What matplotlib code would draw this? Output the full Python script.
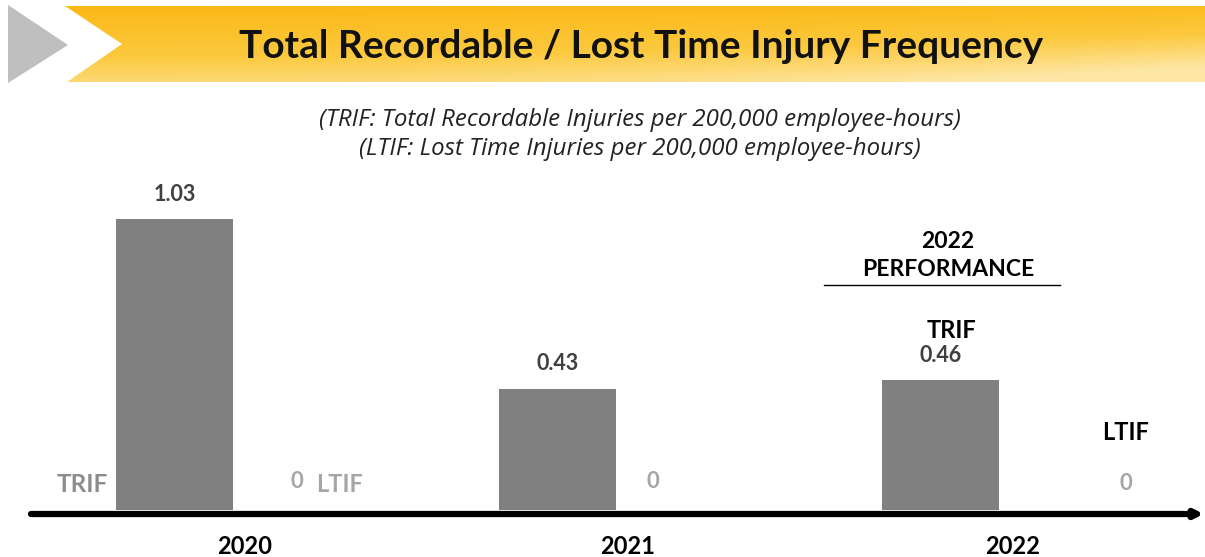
import numpy as np
import matplotlib
matplotlib.use("Agg")
import matplotlib.pyplot as plt
from matplotlib.patches import Polygon
from matplotlib.colors import LinearSegmentedColormap

# ---- data ----
years = ["2020", "2021", "2022"]
trif = [1.03, 0.43, 0.46]
ltif = [0, 0, 0]
trif_labels = ["1.03", "0.43", "0.46"]
ltif_labels = ["0", "0", "0"]

title = "Total Recordable / Lost Time Injury Frequency"
subtitle1 = "(TRIF: Total Recordable Injuries per 200,000 employee-hours)"
subtitle2 = "(LTIF: Lost Time Injuries per 200,000 employee-hours)"

W, H = 1205, 557
fig = plt.figure(figsize=(W / 100, H / 100), dpi=100)
FONT = "Lato"

# ---- banner (figure pixel coords via an overlay axes) ----
bax = fig.add_axes([0, 0, 1, 1])
bax.set_xlim(0, W)
bax.set_ylim(H, 0)
bax.axis("off")
bax.set_zorder(0)

yy, xx = np.mgrid[0:1:60j, 0:1:200j]
grad = np.clip(0.75 * yy + 0.35 * xx ** 2 * yy + 0.1 * xx ** 3, 0, 1)
cmap = LinearSegmentedColormap.from_list("y", ["#FBB918", "#FCC93E", "#FEE7A6"])
im = bax.imshow(grad, cmap=cmap, extent=(65, W, 82, 6), aspect="auto", zorder=1)
clip = Polygon([(65, 6), (W, 6), (W, 82), (67, 82), (122, 44)], closed=True,
               transform=bax.transData, facecolor="none", edgecolor="none")
bax.add_patch(clip)
im.set_clip_path(clip)
bax.add_patch(Polygon([(8, 5), (68, 45), (8, 83)], closed=True,
                      facecolor="#BFBFBF", edgecolor="none", zorder=2))
bax.text(641, 47, title, ha="center", va="center", fontsize=28,
         fontweight="bold", family=FONT, color="#111111", zorder=3)
bax.text(640, 120, subtitle1, ha="center", va="center", fontsize=17.3,
         style="italic", family="Open Sans", color="#222222")
bax.text(640, 149, subtitle2, ha="center", va="center", fontsize=17.3,
         style="italic", family="Open Sans", color="#222222")

# ---- chart axes (whole figure, data units) ----
px_per_cat = 383.0
x0_px = 245.0
px_per_val = 282.5
y0_px = 510.0
ax = fig.add_axes([0, 0, 1, 1])
ax.set_zorder(1)
ax.patch.set_alpha(0)
ax.set_xlim(-x0_px / px_per_cat, (W - x0_px) / px_per_cat)
ax.set_ylim(-(H - y0_px) / px_per_val, y0_px / px_per_val)
ax.axis("off")

def dx(p):
    return p / px_per_cat

def dy(p):
    return p / px_per_val

x = np.arange(len(years))
bw = dx(117)
off_trif = dx(-70.5)
ax.bar(x + off_trif, trif, width=bw, color="#808080", zorder=2)
ax.bar(x + dx(70.5), ltif, width=bw, color="#808080", zorder=2)

# baseline arrow
ax.annotate("", xy=(dx(1204 - x0_px), -dy(4)), xytext=(dx(31 - x0_px), -dy(4)),
            arrowprops=dict(arrowstyle="-|>,head_length=0.45,head_width=0.22",
                            lw=4.5, color="black", shrinkA=0, shrinkB=0),
            zorder=3)

# value labels on TRIF bars
for i, (v, s) in enumerate(zip(trif, trif_labels)):
    ax.text(x[i] + off_trif, v + dy(25), s, ha="center", va="center",
            fontsize=15.5, fontweight="bold", family=FONT, color="#404040")

# year labels
for i, yr in enumerate(years):
    ax.text(x[i] + dx([0, 0, 2][i]), -dy(37), yr, ha="center", va="center",
            fontsize=17, fontweight="bold", family=FONT, color="black")

# LTIF zero labels (positions in px)
ltif_px = [(297, 482), (653, 481), (1126, 484)]
for (px, py), s in zip(ltif_px, ltif_labels):
    ax.text(dx(px - x0_px), dy(y0_px - py), s, ha="center", va="center",
            fontsize=16, fontweight="bold", family=FONT, color="#A6A6A6")

# 2020 series labels
ax.text(dx(82 - x0_px), dy(y0_px - 485), "TRIF", ha="center", va="center",
        fontsize=17.5, fontweight="bold", family=FONT, color="#8C8C8C")
ax.text(dx(340 - x0_px), dy(y0_px - 485), "LTIF", ha="center", va="center",
        fontsize=17, fontweight="bold", family=FONT, color="#A6A6A6")

# 2022 performance
ax.text(dx(948 - x0_px), dy(y0_px - 241), "2022", ha="center", va="center",
        fontsize=16.5, fontweight="bold", family=FONT, color="black")
ax.text(dx(948 - x0_px), dy(y0_px - 269), "PERFORMANCE", ha="center", va="center",
        fontsize=16.5, fontweight="bold", family=FONT, color="black")
ax.plot([dx(824 - x0_px), dx(1060 - x0_px)], [dy(y0_px - 285)] * 2,
        color="black", lw=1)
ax.text(dx(951 - x0_px), dy(y0_px - 330), "TRIF", ha="center", va="center",
        fontsize=17, fontweight="bold", family=FONT, color="black")
ax.text(dx(1126 - x0_px), dy(y0_px - 433), "LTIF", ha="center", va="center",
        fontsize=17, fontweight="bold", family=FONT, color="black")

fig.savefig("out.png", dpi=100)
